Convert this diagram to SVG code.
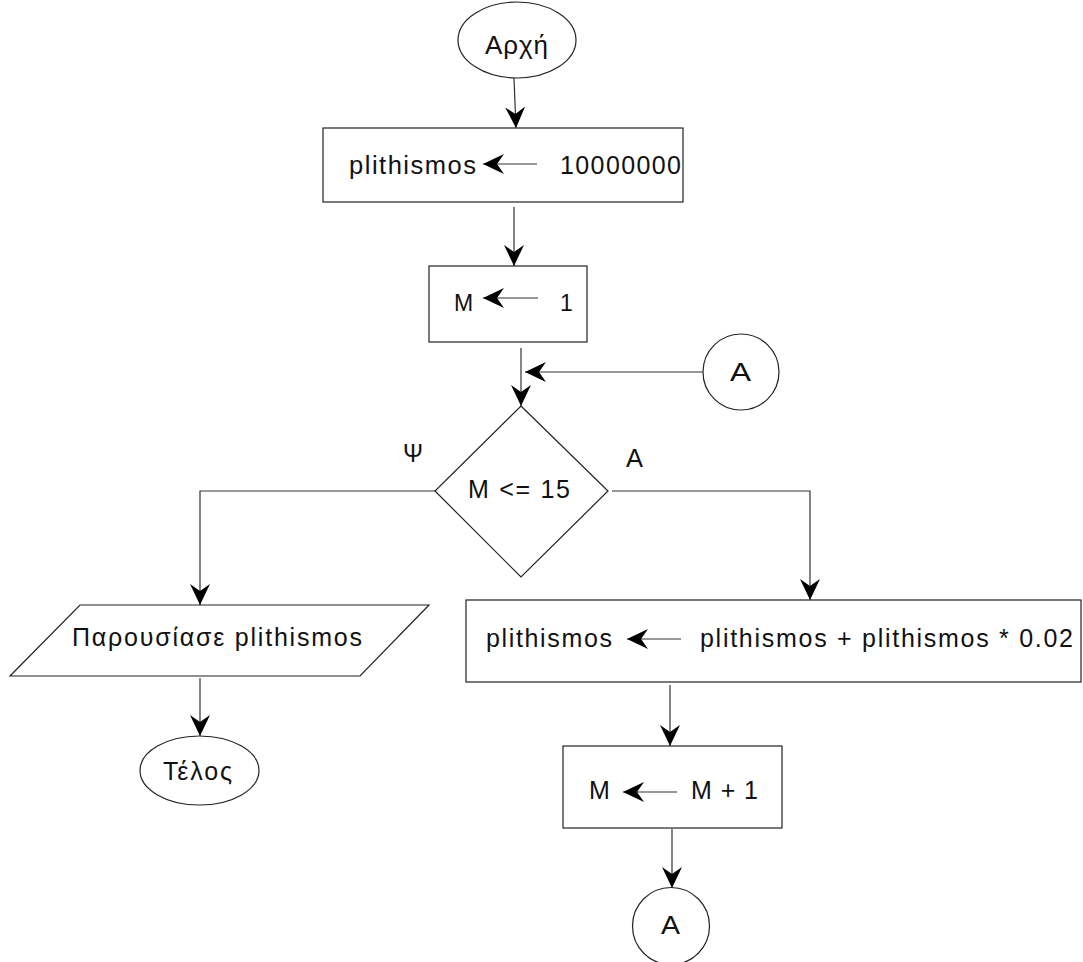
<svg xmlns="http://www.w3.org/2000/svg" width="1083" height="962" viewBox="0 0 1083 962">
  <style>
    .shape { fill: #ffffff; stroke: #222222; stroke-width: 1.2; }
    .line { fill: none; stroke: #333333; stroke-width: 1.2; }
    .txt { font-family: "Liberation Sans", Arial, sans-serif; fill: #111111; }
  </style>
  <defs>
    <!-- notched filled arrowhead used by every connector -->
    <marker id="arrow" viewBox="-22 -12 24 24" refX="0" refY="0" markerWidth="24" markerHeight="24" markerUnits="userSpaceOnUse" orient="auto">
      <path d="M0,0 L-21,-10 L-14,0 L-21,10 Z" fill="#000000"/>
    </marker>
  </defs>
  <rect width="1083" height="962" fill="#ffffff"/>

  <g id="start">
    <ellipse class="shape" cx="517" cy="40" rx="59" ry="38"/>
    <text class="txt" x="485" y="54" font-size="26" textLength="63" lengthAdjust="spacing">Αρχή</text>
  </g>

  <g id="init-plithismos">
    <rect class="shape" x="323" y="128" width="360" height="74"/>
    <text class="txt" x="349" y="174" font-size="25.5" textLength="127" lengthAdjust="spacing">plithismos</text>
    <line class="line" x1="537" y1="164" x2="483" y2="164" marker-end="url(#arrow)"/>
    <text class="txt" x="560" y="174" font-size="25" textLength="121" lengthAdjust="spacing">10000000</text>
  </g>

  <g id="init-m">
    <rect class="shape" x="429" y="266" width="158" height="76"/>
    <text class="txt" x="454" y="311" font-size="23" textLength="20" lengthAdjust="spacing">M</text>
    <line class="line" x1="538" y1="298" x2="483" y2="298" marker-end="url(#arrow)"/>
    <text class="txt" x="560" y="311" font-size="23">1</text>
  </g>

  <g id="connector-a-in">
    <circle class="shape" cx="741" cy="372" r="38"/>
    <text class="txt" x="730" y="381" font-size="26" textLength="21" lengthAdjust="spacingAndGlyphs">A</text>
  </g>

  <g id="decision">
    <polygon class="shape" points="521,406 608,491 521,577 435,491"/>
    <text class="txt" x="468" y="498" font-size="25" textLength="102" lengthAdjust="spacing">M &lt;= 15</text>
  </g>

  <g id="label-no">
    <text class="txt" x="403" y="462" font-size="25" textLength="20" lengthAdjust="spacingAndGlyphs">Ψ</text>
  </g>
  <g id="label-yes">
    <text class="txt" x="626" y="467" font-size="25" textLength="17" lengthAdjust="spacingAndGlyphs">A</text>
  </g>

  <g id="output">
    <polygon class="shape" points="80,605 429,605 360,676 10,676"/>
    <text class="txt" x="72" y="646" font-size="25" textLength="290" lengthAdjust="spacing">Παρουσίασε plithismos</text>
  </g>

  <g id="end">
    <ellipse class="shape" cx="199.5" cy="770.5" rx="59.5" ry="34.5"/>
    <text class="txt" x="163" y="780" font-size="25" textLength="69" lengthAdjust="spacing">Τέλος</text>
  </g>

  <g id="update-plithismos">
    <rect class="shape" x="466" y="600" width="615" height="82"/>
    <text class="txt" x="486" y="647" font-size="25" textLength="126" lengthAdjust="spacing">plithismos</text>
    <line class="line" x1="681" y1="639" x2="627" y2="639" marker-end="url(#arrow)"/>
    <text class="txt" x="700" y="647" font-size="25" textLength="373" lengthAdjust="spacing">plithismos + plithismos * 0.02</text>
  </g>

  <g id="increment-m">
    <rect class="shape" x="563" y="746" width="219" height="82"/>
    <text class="txt" x="589" y="799" font-size="25" textLength="20" lengthAdjust="spacing">M</text>
    <line class="line" x1="677" y1="792" x2="623" y2="792" marker-end="url(#arrow)"/>
    <text class="txt" x="691" y="799" font-size="25" textLength="67" lengthAdjust="spacing">M + 1</text>
  </g>

  <g id="connector-a-out">
    <circle class="shape" cx="671" cy="926" r="38.5"/>
    <text class="txt" x="661" y="934" font-size="25" textLength="19" lengthAdjust="spacingAndGlyphs">A</text>
  </g>

  <g id="connectors">
    <line class="line" x1="514" y1="78" x2="516" y2="128" marker-end="url(#arrow)"/>
    <line class="line" x1="514" y1="207" x2="514" y2="266" marker-end="url(#arrow)"/>
    <line class="line" x1="521" y1="348" x2="521" y2="406" marker-end="url(#arrow)"/>
    <line class="line" x1="703" y1="372" x2="525" y2="372" marker-end="url(#arrow)"/>
    <polyline class="line" points="612,491 810,491 810,600" marker-end="url(#arrow)"/>
    <polyline class="line" points="435,491 200,491 200,605" marker-end="url(#arrow)"/>
    <line class="line" x1="200" y1="678" x2="200" y2="736" marker-end="url(#arrow)"/>
    <line class="line" x1="670" y1="685" x2="670" y2="746" marker-end="url(#arrow)"/>
    <line class="line" x1="672" y1="829" x2="672" y2="888" marker-end="url(#arrow)"/>
  </g>
</svg>
